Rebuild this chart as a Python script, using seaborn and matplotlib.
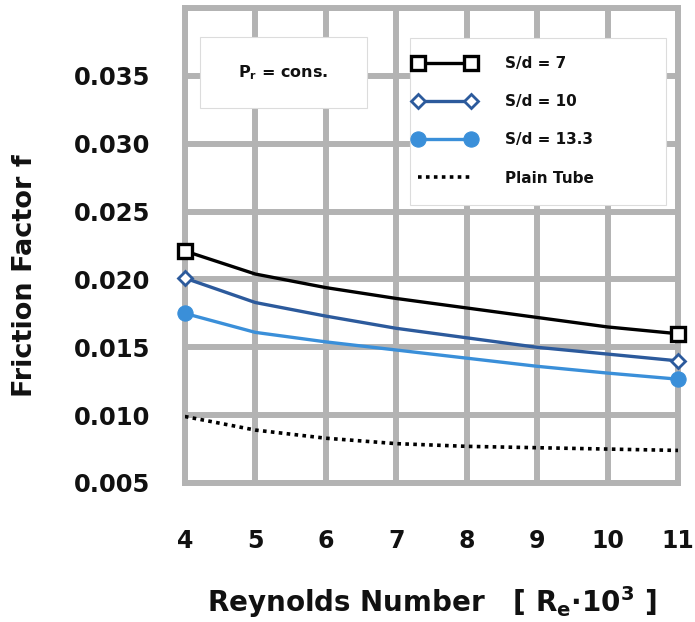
import matplotlib
matplotlib.use("Agg")
import matplotlib.pyplot as plt
import seaborn as sns
import pandas as pd
from matplotlib.patches import Rectangle

# ---- data ----
reynolds = [4, 5, 6, 7, 8, 9, 10, 11]
f_sd7 = [0.0221, 0.0204, 0.0194, 0.0186, 0.0179, 0.0172, 0.0165, 0.0160]
f_sd10 = [0.0201, 0.0183, 0.0173, 0.0164, 0.0157, 0.0150, 0.0145, 0.0140]
f_sd133 = [0.0175, 0.0161, 0.0154, 0.0148, 0.0142, 0.0136, 0.0131, 0.01265]
f_plain = [0.0099, 0.0089, 0.0083, 0.0079, 0.0077, 0.0076, 0.0075, 0.0074]
series_labels = ["S/d = 7", "S/d = 10", "S/d = 13.3", "Plain Tube"]
x_ticks = [4, 5, 6, 7, 8, 9, 10, 11]
y_ticks = [0.005, 0.010, 0.015, 0.020, 0.025, 0.030, 0.035]

sns.set_theme(style="white")
plt.rcParams["font.family"] = ["DejaVu Sans"]
plt.rcParams["font.weight"] = "bold"
plt.rcParams["text.color"] = "#111111"
plt.rcParams["axes.labelcolor"] = "#111111"
plt.rcParams["xtick.color"] = "#111111"
plt.rcParams["ytick.color"] = "#111111"
plt.rcParams["mathtext.fontset"] = "custom"
plt.rcParams["mathtext.rm"] = "DejaVu Sans:bold"
plt.rcParams["mathtext.it"] = "DejaVu Sans:bold"
plt.rcParams["mathtext.bf"] = "DejaVu Sans:bold"

fig = plt.figure(figsize=(6.95, 6.22), dpi=100)
ax = fig.add_axes([0.266, 0.2235, 0.7095, 0.7635])

grid_c = "#b3b3b3"
ax.set_xlim(4, 11)
ax.set_ylim(0.005, 0.040)
ax.set_xticks(x_ticks)
ax.set_yticks(y_ticks + [0.040])
ax.set_yticklabels([f"{v:.3f}" for v in y_ticks] + [""])
ax.grid(True, color=grid_c, linewidth=4.3, zorder=0)
ax.set_axisbelow(True)
for s in ax.spines.values():
    s.set_color(grid_c)
    s.set_linewidth(4.3)

df = pd.DataFrame({
    "Re": reynolds * 4,
    "f": f_sd7 + f_sd10 + f_sd133 + f_plain,
    "series": sum([[lab] * len(reynolds) for lab in series_labels], []),
})

def sub(name):
    return df[df["series"] == name]

sns.lineplot(data=sub(series_labels[0]), x="Re", y="f", ax=ax, color="black",
             linewidth=2.4, marker="s", markersize=10, markerfacecolor="white",
             markeredgecolor="black", markeredgewidth=2.4, markevery=[0, -1],
             label=series_labels[0], clip_on=False, zorder=5)
sns.lineplot(data=sub(series_labels[1]), x="Re", y="f", ax=ax, color="#2c5a9c",
             linewidth=2.4, marker="D", markersize=7, markerfacecolor="white",
             markeredgecolor="#2c5a9c", markeredgewidth=2.0, markevery=[0, -1],
             label=series_labels[1], clip_on=False, zorder=5)
sns.lineplot(data=sub(series_labels[2]), x="Re", y="f", ax=ax, color="#3a8fd9",
             linewidth=2.4, marker="o", markersize=11, markerfacecolor="#3a8fd9",
             markeredgecolor="#3a8fd9", markevery=[0, -1],
             label=series_labels[2], clip_on=False, zorder=5)
sns.lineplot(data=sub(series_labels[3]), x="Re", y="f", ax=ax, color="black",
             linewidth=2.6, linestyle=(0, (1, 1.2)),
             label=series_labels[3], zorder=5)

# legend box
ax.add_patch(Rectangle((0.456, 0.585), 0.520, 0.352, transform=ax.transAxes,
                       facecolor="white", edgecolor="#dcdcdc", linewidth=0.8,
                       zorder=8))
leg = ax.legend(loc="upper left", bbox_to_anchor=(0.4625, 0.899), numpoints=2,
                handlelength=4.1, handletextpad=1.9, labelspacing=1.52,
                borderpad=0, fontsize=11, frameon=False, borderaxespad=0)
leg.set_zorder(10)

# P_r = cons. box
ax.add_patch(Rectangle((0.030, 0.789), 0.339, 0.150, transform=ax.transAxes,
                       facecolor="white", edgecolor="#dcdcdc", linewidth=0.8,
                       zorder=8))
ax.text(0.199, 0.865, r"P$_{\mathrm{r}}$ = cons.", transform=ax.transAxes,
        ha="center", va="center", fontsize=11.5, fontweight="bold", zorder=9)

ax.tick_params(axis="x", labelsize=17, pad=33, length=0)
ax.tick_params(axis="y", labelsize=17.5, pad=25, length=0)
for lab in ax.get_xticklabels() + ax.get_yticklabels():
    lab.set_fontweight("bold")

ax.set_xlabel(r"Reynolds Number   [ R$_{\mathrm{e}}$$\cdot$10$^{3}$ ]",
              fontsize=20, fontweight="bold", va="top")
ax.xaxis.set_label_coords(0.5, -0.212)
ax.set_ylabel("Friction Factor f", fontsize=19.5, fontweight="bold", va="center")
ax.yaxis.set_label_coords(-0.325, 0.436)

fig.savefig("out.png", dpi=100)
